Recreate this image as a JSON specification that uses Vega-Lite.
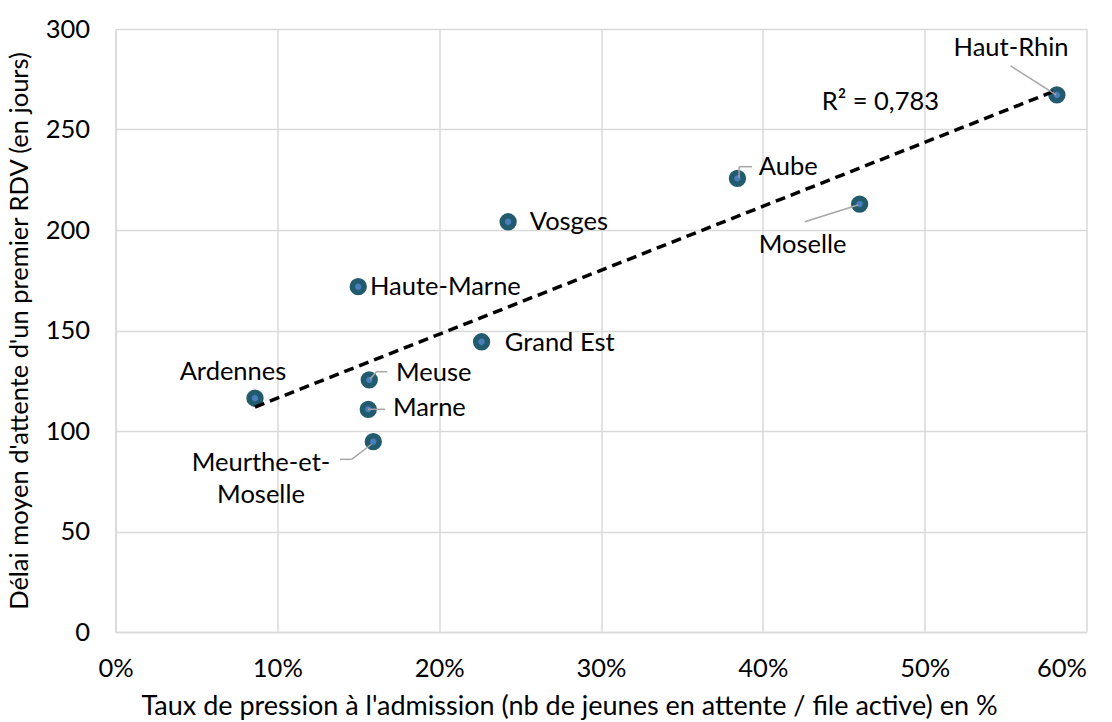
{
  "$schema": "https://vega.github.io/schema/vega-lite/v6.json",
  "width": 971,
  "height": 603,
  "autosize": {"type": "none"},
  "padding": {"left": 115.5, "top": 29, "right": 25.5, "bottom": 90},
  "background": "white",
  "config": {
    "view": {"stroke": null},
    "font": "Lato",
    "axis": {
      "labelFont": "Lato", "labelFontSize": 25.5, "labelColor": "#000000",
      "titleFont": "Lato", "titleFontWeight": "normal", "titleColor": "#000000",
      "gridColor": "#d9d9d9", "gridWidth": 1.5, "domainColor": "#d9d9d9", "domainWidth": 1.5,
      "ticks": false
    }
  },
  "datasets": {
    "points": [
      {"dep": "Ardennes", "taux": 0.0862, "delai": 116.3},
      {"dep": "Haute-Marne", "taux": 0.150, "delai": 171.8},
      {"dep": "Vosges", "taux": 0.2426, "delai": 204.1},
      {"dep": "Grand Est", "taux": 0.2262, "delai": 144.4},
      {"dep": "Meuse", "taux": 0.1568, "delai": 125.4},
      {"dep": "Marne", "taux": 0.1562, "delai": 110.8},
      {"dep": "Meurthe-et-Moselle", "taux": 0.1593, "delai": 94.7},
      {"dep": "Aube", "taux": 0.3843, "delai": 225.7},
      {"dep": "Moselle", "taux": 0.4598, "delai": 212.9},
      {"dep": "Haut-Rhin", "taux": 0.5817, "delai": 267.2}
    ],
    "labels": [
      {"label": "Haute-Marne", "lx": 0.1572, "ly": 171.6, "anchor": "left"},
      {"label": "Vosges", "lx": 0.2560, "ly": 204.0, "anchor": "left"},
      {"label": "Grand Est", "lx": 0.2405, "ly": 143.8, "anchor": "left"},
      {"label": "Meuse", "lx": 0.1733, "ly": 128.9, "anchor": "left"},
      {"label": "Marne", "lx": 0.1714, "ly": 111.4, "anchor": "left"},
      {"label": "Aube", "lx": 0.3975, "ly": 231.3, "anchor": "left"},
      {"label": "R² = 0,783", "lx": 0.4364, "ly": 263.8, "anchor": "left"},
      {"label": "Haut-Rhin", "lx": 0.5534, "ly": 290.5, "anchor": "center"},
      {"label": "Moselle", "lx": 0.4246, "ly": 192.5, "anchor": "center"},
      {"label": "Ardennes", "lx": 0.0726, "ly": 129.5, "anchor": "center"},
      {"label": "Meurthe-et-\nMoselle", "lx": 0.0899, "ly": 84.3, "anchor": "center"}
    ],
    "leaders": [
      {"x": 0.5531, "y": 281.6, "x2": 0.5813, "y2": 267.2},
      {"x": 0.3853, "y": 225.9, "x2": 0.3853, "y2": 231.5},
      {"x": 0.3853, "y": 231.5, "x2": 0.3933, "y2": 231.5},
      {"x": 0.4259, "y": 204.1, "x2": 0.4588, "y2": 212.4},
      {"x": 0.1572, "y": 125.7, "x2": 0.1613, "y2": 129.5},
      {"x": 0.1613, "y": 129.5, "x2": 0.1679, "y2": 129.5},
      {"x": 0.1560, "y": 110.8, "x2": 0.1665, "y2": 110.8},
      {"x": 0.1387, "y": 85.9, "x2": 0.1459, "y2": 85.9},
      {"x": 0.1459, "y": 85.9, "x2": 0.1582, "y2": 93.4}
    ]
  },
  "layer": [
    {
      "data": {"name": "points"},
      "mark": {"type": "point", "filled": true, "fill": "#4a7ebb", "stroke": "#225a6e", "strokeWidth": 5.5, "size": 140, "opacity": 1},
      "encoding": {
        "x": {
          "field": "taux", "type": "quantitative",
          "scale": {"domain": [0, 0.6], "nice": false},
          "axis": {"values": [0, 0.1, 0.2, 0.3, 0.4, 0.5, 0.6], "format": ".0%", "labelPadding": 24, "titlePadding": 12,
                   "labelFlush": false,
                   "labelAlign": {"condition": {"test": "datum.value >= 0.6", "value": "right"}, "value": "center"},
                   "titleFontSize": 27, "titleX": 453.5, "titleAlign": "center",
                   "title": "Taux de pression à l'admission (nb de jeunes en attente / file active) en %"}
        },
        "y": {
          "field": "delai", "type": "quantitative",
          "scale": {"domain": [0, 300], "nice": false},
          "axis": {"values": [0, 50, 100, 150, 200, 250, 300], "labelPadding": 26, "titlePadding": 13,
                   "titleFontSize": 25.5,
                   "title": "Délai moyen d'attente d'un premier RDV (en jours)"}
        }
      }
    },
    {
      "data": {"name": "points"},
      "transform": [{"regression": "delai", "on": "taux"}],
      "mark": {"type": "line", "color": "#000000", "strokeWidth": 3.5, "strokeDash": [10, 6]},
      "encoding": {
        "x": {"field": "taux", "type": "quantitative"},
        "y": {"field": "delai", "type": "quantitative"}
      }
    },
    {
      "data": {"name": "leaders"},
      "mark": {"type": "rule", "color": "#a6a6a6", "strokeWidth": 1.5},
      "encoding": {
        "x": {"field": "x", "type": "quantitative"},
        "y": {"field": "y", "type": "quantitative"},
        "x2": {"field": "x2"},
        "y2": {"field": "y2"}
      }
    },
    {
      "data": {"name": "labels"},
      "transform": [{"filter": "datum.anchor === 'left'"}],
      "mark": {"type": "text", "align": "left", "baseline": "middle", "fontSize": 25.5, "font": "Lato", "color": "#000000"},
      "encoding": {
        "x": {"field": "lx", "type": "quantitative"},
        "y": {"field": "ly", "type": "quantitative"},
        "text": {"field": "label"}
      }
    },
    {
      "data": {"name": "labels"},
      "transform": [{"filter": "datum.anchor === 'center'"}],
      "mark": {"type": "text", "align": "center", "baseline": "middle", "fontSize": 25.5, "font": "Lato", "color": "#000000", "lineBreak": "\n", "lineHeight": 32},
      "encoding": {
        "x": {"field": "lx", "type": "quantitative"},
        "y": {"field": "ly", "type": "quantitative"},
        "text": {"field": "label"}
      }
    }
  ]
}
